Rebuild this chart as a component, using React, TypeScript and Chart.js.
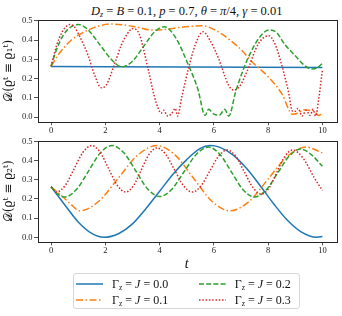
import React, { useEffect, useRef } from "react";
import { Chart, registerables } from "chart.js";

Chart.register(...registerables);

// ---------- data ----------
const X_TICKS = [0, 2, 4, 6, 8, 10];
const Y_TICKS = [0, 0.1, 0.2, 0.3, 0.4, 0.5];
const SERIES_NAMES = ["Γz = J = 0.0", "Γz = J = 0.1", "Γz = J = 0.2", "Γz = J = 0.3"];

// top panel  D(ρ^t ≡ ρ1^t)
const topBlueT = [0, 5, 10];
const topBlueV = [0.263, 0.26, 0.257];

const topOrangeT = [0, 0.25, 0.5, 0.75, 1.0, 1.37, 1.7, 2.17, 2.7, 3.2, 3.7, 4.2, 4.7, 5.1, 5.6, 6.0, 6.5, 7.0, 7.4, 8.0, 8.5, 8.9, 9.1, 9.3, 9.5, 9.7, 9.85, 10];
const topOrangeV = [0.263, 0.32, 0.365, 0.4, 0.425, 0.452, 0.47, 0.483, 0.478, 0.466, 0.452, 0.455, 0.465, 0.47, 0.474, 0.455, 0.41, 0.35, 0.287, 0.21, 0.122, 0.015, 0.02, 0.038, 0.035, 0.032, 0.008, 0.018];

const topGreenT = [0, 0.2, 0.45, 0.7, 1.0, 1.35, 1.8, 2.25, 2.6, 3.0, 3.4, 3.8, 4.17, 4.6, 5.06, 5.4, 5.68, 5.8, 6.0, 6.2, 6.4, 6.55, 6.8, 7.1, 7.4, 7.7, 8.02, 8.3, 8.63, 9.0, 9.25, 9.6, 9.8, 10];
const topGreenV = [0.263, 0.35, 0.425, 0.465, 0.481, 0.455, 0.375, 0.295, 0.261, 0.29, 0.365, 0.44, 0.469, 0.41, 0.27, 0.15, 0.008, 0.04, 0.015, 0.01, 0.04, 0.005, 0.13, 0.253, 0.348, 0.417, 0.452, 0.44, 0.374, 0.318, 0.279, 0.25, 0.255, 0.279];

const topRedT = [0, 0.2, 0.4, 0.55, 0.69, 0.85, 1.05, 1.36, 1.6, 1.85, 2.05, 2.3, 2.59, 2.8, 3.02, 3.25, 3.58, 3.8, 3.95, 4.05, 4.15, 4.3, 4.45, 4.58, 4.66, 4.81, 5.06, 5.31, 5.6, 5.85, 6.17, 6.54, 6.73, 6.95, 7.2, 7.65, 8.02, 8.25, 8.5, 8.75, 8.9, 9.0, 9.1, 9.25, 9.4, 9.55, 9.65, 9.75, 9.85, 10];
const topRedV = [0.263, 0.37, 0.44, 0.47, 0.481, 0.47, 0.42, 0.322, 0.22, 0.152, 0.17, 0.26, 0.374, 0.43, 0.46, 0.43, 0.247, 0.11, 0.045, 0.02, 0.035, 0.005, 0.02, 0.045, 0.005, 0.1, 0.25, 0.374, 0.443, 0.4, 0.305, 0.166, 0.14, 0.16, 0.23, 0.383, 0.422, 0.38, 0.27, 0.13, 0.03, 0.03, 0.045, 0.005, 0.035, 0.008, 0.04, 0.005, 0.08, 0.245];

// bottom panel  D(ρ^t ≡ ρ2^t)
const botBlueT = [0, 0.5, 1.0, 1.5, 1.95, 2.5, 3.0, 3.5, 4.0, 4.5, 5.0, 5.5, 5.85, 6.2, 6.7, 7.2, 7.7, 8.2, 8.7, 9.2, 9.8, 10];
const botBlueV = [0.263, 0.17, 0.08, 0.02, 0.0, 0.02, 0.07, 0.15, 0.24, 0.33, 0.405, 0.463, 0.478, 0.47, 0.43, 0.36, 0.27, 0.175, 0.09, 0.03, 0.0, 0.004];

const botOrangeT = [0, 0.4, 0.75, 1.05, 1.76, 2.475, 3.19, 3.9, 4.575, 5.25, 5.925, 6.6, 7.3, 8.0, 8.7, 9.4, 10];
const botOrangeV = [0.263, 0.215, 0.17, 0.138, 0.188, 0.308, 0.428, 0.478, 0.428, 0.308, 0.188, 0.138, 0.187, 0.304, 0.421, 0.47, 0.44];

const botGreenT = [0, 0.25, 0.5, 0.94, 1.375, 1.81, 2.25, 2.69, 3.125, 3.56, 4.0, 4.45, 4.9, 5.35, 5.8, 6.225, 6.65, 7.075, 7.5, 7.925, 8.35, 8.775, 9.2, 9.6, 10];
const botGreenV = [0.263, 0.225, 0.21, 0.25, 0.344, 0.439, 0.478, 0.439, 0.3455, 0.252, 0.213, 0.25, 0.3415, 0.432, 0.47, 0.432, 0.34, 0.248, 0.21, 0.247, 0.335, 0.423, 0.46, 0.43, 0.37];

const botRedT = [0, 0.2, 0.525, 0.85, 1.175, 1.5, 1.81, 2.125, 2.44, 2.75, 3.04, 3.325, 3.61, 3.9, 4.225, 4.55, 4.875, 5.2, 5.525, 5.85, 6.175, 6.5, 6.81, 7.125, 7.44, 7.75, 8.04, 8.325, 8.61, 8.9, 9.3, 9.7, 10];
const botRedV = [0.263, 0.236, 0.271, 0.357, 0.443, 0.478, 0.443, 0.357, 0.271, 0.236, 0.27, 0.351, 0.432, 0.466, 0.432, 0.351, 0.27, 0.236, 0.268, 0.3455, 0.423, 0.455, 0.421, 0.34, 0.259, 0.225, 0.259, 0.34, 0.421, 0.455, 0.41, 0.31, 0.245];

// ---------- styles ----------
const COLORS = ["#1f77b4", "#ff7f0e", "#2ca02c", "#d62728"];
const DASHES: number[][] = [[], [7, 2.5, 1.5, 2.5], [5, 2.2], [1.5, 1.8]];
const SERIF = "'Liberation Serif', 'DejaVu Serif', serif";
const FRAME = "#262626";

const zip = (t: number[], v: number[]) => t.map((x, i) => ({ x, y: v[i] }));

const framePlugin = {
  id: "frame",
  afterDraw(chart: any) {
    const { ctx, chartArea } = chart;
    ctx.save();
    ctx.strokeStyle = FRAME;
    ctx.lineWidth = 1;
    ctx.strokeRect(
      Math.round(chartArea.left) + 0.5,
      Math.round(chartArea.top) + 0.5,
      Math.round(chartArea.right - chartArea.left),
      Math.round(chartArea.bottom - chartArea.top)
    );
    ctx.restore();
  },
};

type PanelProps = {
  top: number;
  height: number;
  padTop: number;
  xAxisH: number;
  yTitle: string;
  series: { t: number[]; v: number[] }[];
};

function Panel({ top, height, padTop, xAxisH, yTitle, series }: PanelProps) {
  const ref = useRef<HTMLCanvasElement | null>(null);
  useEffect(() => {
    if (!ref.current) return;
    const chart = new Chart(ref.current, {
      type: "line",
      data: {
        datasets: series.map((s, i) => ({
          label: SERIES_NAMES[i],
          data: zip(s.t, s.v),
          borderColor: COLORS[i],
          backgroundColor: COLORS[i],
          borderWidth: 1.5,
          borderDash: DASHES[i],
          borderCapStyle: "butt" as const,
          pointRadius: 0,
          fill: false,
          cubicInterpolationMode: "monotone" as const,
          order: 4 - i,
        })),
      },
      options: {
        responsive: false,
        animation: false,
        devicePixelRatio: 1,
        layout: { padding: { top: padTop, right: 6, left: 0, bottom: 0 } },
        plugins: { legend: { display: false }, tooltip: { enabled: false } },
        scales: {
          x: {
            type: "linear",
            min: -0.5,
            max: 10.5,
            afterBuildTicks: (axis: any) => {
              axis.ticks = X_TICKS.map((value) => ({ value }));
            },
            afterFit: (axis: any) => {
              axis.height = xAxisH;
            },
            ticks: {
              autoSkip: false,
              maxRotation: 0,
              padding: 0,
              color: "#222",
              font: { family: SERIF, size: 8.5 },
              callback: (v: any) => String(v),
            },
            grid: { display: true, drawOnChartArea: false, drawTicks: true, tickLength: 3.5, tickColor: FRAME, tickWidth: 0.8 },
            border: { display: false },
          },
          y: {
            type: "linear",
            min: -0.024,
            max: 0.504,
            afterBuildTicks: (axis: any) => {
              axis.ticks = Y_TICKS.map((value) => ({ value }));
            },
            afterFit: (axis: any) => {
              axis.width = 37.5;
            },
            ticks: {
              padding: 1.5,
              color: "#222",
              font: { family: SERIF, size: 8.5 },
              callback: (v: any) => Number(v).toFixed(1),
            },
            title: {
              display: true,
              text: yTitle,
              color: "#111",
              font: { family: "'DejaVu Serif', serif", size: 12 },
              padding: { top: 2, bottom: 0 },
            },
            grid: { display: true, drawOnChartArea: false, drawTicks: true, tickLength: 3.5, tickColor: FRAME, tickWidth: 0.8 },
            border: { display: false },
          },
        },
      },
      plugins: [framePlugin],
    });
    return () => chart.destroy();
  }, []);
  return (
    <canvas
      ref={ref}
      width={342}
      height={height}
      style={{ position: "absolute", left: 0, top, width: 342, height }}
    />
  );
}

function LegendItem({ i, x, y }: { i: number; x: number; y: number }) {
  const parts = SERIES_NAMES[i].split(" = ");
  return (
    <>
      <svg width={30} height={6} style={{ position: "absolute", left: x, top: y - 3 }}>
        <line
          x1={0}
          y1={3}
          x2={27}
          y2={3}
          stroke={COLORS[i]}
          strokeWidth={1.5}
          strokeDasharray={DASHES[i].length ? DASHES[i].join(" ") : undefined}
        />
      </svg>
      <div
        style={{
          position: "absolute",
          left: x + 36,
          top: y - 8,
          height: 16,
          lineHeight: "16px",
          whiteSpace: "nowrap",
          fontFamily: SERIF,
          fontSize: 12,
          color: "#111",
        }}
      >
        Γ<sub style={{ fontSize: 7.5, verticalAlign: "-2px" }}>z</sub>
        {" = "}
        <i>J</i>
        {" = " + parts[2]}
      </div>
    </>
  );
}

export default function App() {
  return (
    <div style={{ position: "absolute", left: 0, top: 0, width: 342, height: 316, background: "#fff", overflow: "hidden" }}>
      <div
        style={{
          position: "absolute",
          left: 76.7,
          width: 220,
          top: 4,
          textAlign: "center",
          whiteSpace: "nowrap",
          fontFamily: SERIF,
          fontSize: 12.5,
          color: "#111",
          lineHeight: "15px",
        }}
      >
        <i>D</i>
        <sub style={{ fontSize: 8, verticalAlign: "-2px" }}>
          <i>z</i>
        </sub>
        {" = "}
        <i>B</i>
        {" = 0.1, "}
        <i>p</i>
        {" = 0.7, "}
        <i>θ</i>
        {" = "}
        <i>π</i>
        {"/4, "}
        <i>γ</i>
        {" = 0.01"}
      </div>
      <Panel
        top={0}
        height={140}
        padTop={20}
        xAxisH={140 - 121.7}
        yTitle="𝒟(ϱᵗ ≡ ϱ₁ᵗ)"
        series={[
          { t: topBlueT, v: topBlueV },
          { t: topOrangeT, v: topOrangeV },
          { t: topGreenT, v: topGreenV },
          { t: topRedT, v: topRedV },
        ]}
      />
      <Panel
        top={134}
        height={122}
        padTop={6.2}
        xAxisH={256 - 241.9}
        yTitle="𝒟(ϱᵗ ≡ ϱ₂ᵗ)"
        series={[
          { t: botBlueT, v: botBlueV },
          { t: botOrangeT, v: botOrangeV },
          { t: botGreenT, v: botGreenV },
          { t: botRedT, v: botRedV },
        ]}
      />
      <div
        style={{
          position: "absolute",
          left: 176.7,
          width: 20,
          top: 256,
          textAlign: "center",
          fontFamily: SERIF,
          fontStyle: "italic",
          fontSize: 14,
          lineHeight: "16px",
          color: "#111",
        }}
      >
        t
      </div>
      <div
        style={{
          position: "absolute",
          left: 73.3,
          top: 272.7,
          width: 226.7,
          height: 36.6,
          boxSizing: "border-box",
          border: "1px solid #d6d6d6",
          borderRadius: 3,
          background: "#fff",
        }}
      >
        <LegendItem i={0} x={1.7} y={10.6} />
        <LegendItem i={1} x={1.7} y={26.6} />
        <LegendItem i={2} x={124.4} y={10.6} />
        <LegendItem i={3} x={124.4} y={26.6} />
      </div>
    </div>
  );
}
